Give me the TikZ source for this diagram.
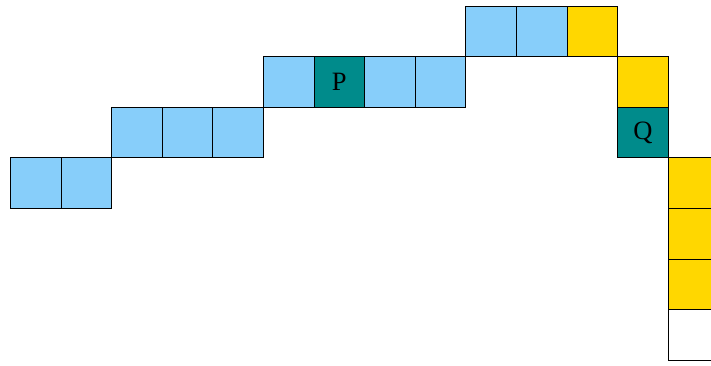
\documentclass[tikz,border=0pt]{standalone}
\usepackage{fontspec}
\setmainfont{Liberation Serif}
\definecolor{skyfill}{HTML}{87CEFA}
\definecolor{goldfill}{HTML}{FFD700}
\definecolor{tealfill}{HTML}{008B8B}
\newcommand{\cellsz}{50.6}
\begin{document}
\begin{tikzpicture}[x=1pt,y=-1pt,
  cellbox/.style={draw=black, line width=0.8pt, minimum size=\cellsz pt, inner sep=0pt,
    anchor=north west, font=\fontsize{26.5}{26.5}\selectfont},
  skycell/.style={cellbox, fill=skyfill},
  goldcell/.style={cellbox, fill=goldfill},
  tealcell/.style={cellbox, fill=tealfill},
  emptycell/.style={cellbox, fill=white}]
\useasboundingbox (0,0) rectangle (711,365);
\clip (0,0) rectangle (711,365);
% cell at column c, row r has its top-left corner at (10 + c*size, 5.5 + r*size)
\newcommand{\cellat}[4]{\node[#3] (#4) at ({10+#1*\cellsz},{5.5+#2*\cellsz}) {};}
% blue staircase
\cellat{0}{3}{skycell}{b30}
\cellat{1}{3}{skycell}{b31}
\cellat{2}{2}{skycell}{b22}
\cellat{3}{2}{skycell}{b23}
\cellat{4}{2}{skycell}{b24}
\cellat{5}{1}{skycell}{b15}
\node[tealcell] (P) at ({10+6*\cellsz},{5.5+1*\cellsz}) {P};
\cellat{7}{1}{skycell}{b17}
\cellat{8}{1}{skycell}{b18}
\cellat{9}{0}{skycell}{b09}
\cellat{10}{0}{skycell}{b010}
% gold path going down
\cellat{11}{0}{goldcell}{g011}
\cellat{12}{1}{goldcell}{g112}
\node[tealcell] (Q) at ({10+12*\cellsz},{5.5+2*\cellsz}) {Q};
\cellat{13}{3}{goldcell}{g313}
\cellat{13}{4}{goldcell}{g413}
\cellat{13}{5}{goldcell}{g513}
\cellat{13}{6}{emptycell}{e613}
\end{tikzpicture}
\end{document}
